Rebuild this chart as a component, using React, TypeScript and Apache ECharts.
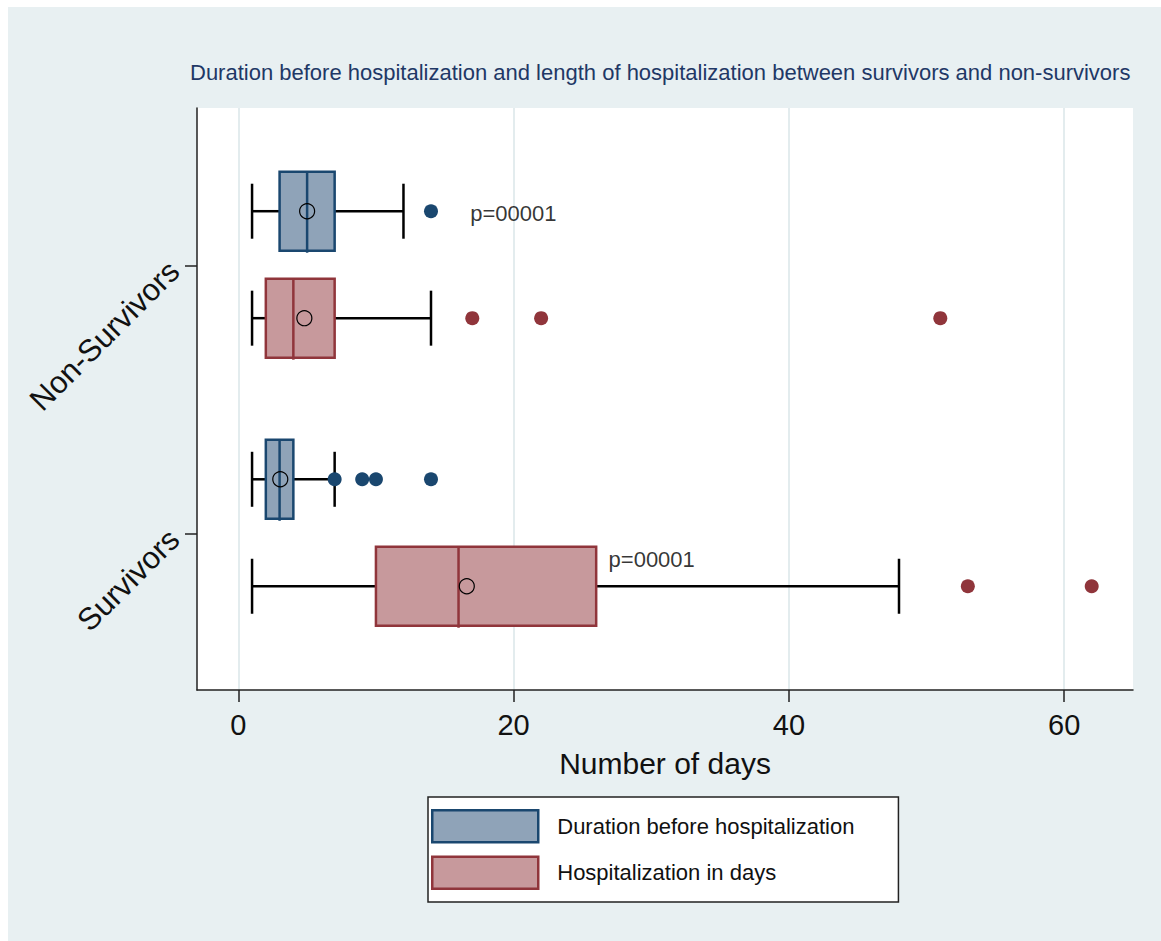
import React, { useEffect, useRef } from 'react';
import * as echarts from 'echarts';

// Groups from bottom to top; axis position = index + 1
const groups = ['Survivors', 'Non-Survivors'];
const seriesNames = ['Duration before hospitalization', 'Hospitalization in days'];

// [low whisker, q1, median, q3, high whisker] per group
const durationBox = [
  [1, 2, 3, 4, 7],
  [1, 3, 5, 7, 12],
];
const hospBox = [
  [1, 10, 16, 26, 48],
  [1, 2, 4, 7, 14],
];
const durationMean = [3.05, 5.0];
const hospMean = [16.6, 4.8];
const durationOutliers = [[7, 9, 10, 14], [14]];
const hospOutliers = [[53, 62], [17, 22, 51]];
const pLabels = ['p=00001', 'p=00001'];
const pLabelX = [26.9, 16.85];
const xTicks = [0, 20, 40, 60];

const title =
  'Duration before hospitalization and length of hospitalization between survivors and non-survivors';

const FONT = '"Liberation Sans", Arial, sans-serif';
const BLUE = '#1a476f';
const BLUE_FILL = '#8fa3b8';
const RED = '#90353b';
const RED_FILL = '#c7999c';
const OFF_BLUE = 0.205;
const OFF_RED = -0.194;

function renderBox(fill: string, border: string) {
  return (params: any, api: any) => {
    const y = api.value(0);
    const p = [1, 2, 3, 4, 5].map((i) => api.coord([api.value(i), y]));
    const cy = p[0][1];
    const bh = 39.5;
    const ch = 27.5;
    const black = { stroke: '#000', lineWidth: 2.5 };
    return {
      type: 'group',
      children: [
        { type: 'line', shape: { x1: p[0][0], y1: cy, x2: p[1][0], y2: cy }, style: black },
        { type: 'line', shape: { x1: p[3][0], y1: cy, x2: p[4][0], y2: cy }, style: black },
        { type: 'line', shape: { x1: p[0][0], y1: cy - ch, x2: p[0][0], y2: cy + ch }, style: black },
        { type: 'line', shape: { x1: p[4][0], y1: cy - ch, x2: p[4][0], y2: cy + ch }, style: black },
        {
          type: 'rect',
          shape: { x: p[1][0], y: cy - bh, width: p[3][0] - p[1][0], height: 2 * bh },
          style: { fill, stroke: border, lineWidth: 2.5 },
        },
        {
          type: 'line',
          shape: { x1: p[2][0], y1: cy - bh, x2: p[2][0], y2: cy + bh + 2 },
          style: { stroke: border, lineWidth: 2.5 },
        },
      ],
    };
  };
}

export default function App() {
  const ref = useRef<HTMLDivElement>(null);
  useEffect(() => {
    if (!ref.current) return;
    const chart = echarts.init(ref.current, undefined, { renderer: 'svg' });

    const pos = (gi: number, off: number) => gi + 1 + off;
    const durData = durationBox.map((b, gi) => [pos(gi, OFF_BLUE), ...b]);
    const hospData = hospBox.map((b, gi) => [pos(gi, OFF_RED), ...b]);
    const durMeanData = durationMean.map((m, gi) => [m, pos(gi, OFF_BLUE)]);
    const hospMeanData = hospMean.map((m, gi) => [m, pos(gi, OFF_RED)]);
    const durOutData: number[][] = [];
    durationOutliers.forEach((arr, gi) => arr.forEach((v) => durOutData.push([v, pos(gi, OFF_BLUE)])));
    const hospOutData: number[][] = [];
    hospOutliers.forEach((arr, gi) => arr.forEach((v) => hospOutData.push([v, pos(gi, OFF_RED)])));

    const pLabelStyle = { fontFamily: FONT, fontSize: 22, color: '#000' };

    chart.setOption({
      animation: false,
      backgroundColor: 'transparent',
      title: {
        text: title,
        left: 190,
        top: 61,
        padding: 0,
        textStyle: { fontFamily: FONT, fontSize: 22, fontWeight: 'normal', color: '#1f3866' },
      },
      grid: {
        left: 197,
        right: 28,
        top: 108,
        bottom: 251,
        show: true,
        backgroundColor: '#ffffff',
        borderWidth: 0,
      },
      legend: {
        orient: 'vertical',
        left: 428,
        top: 797,
        padding: [12, 44, 12, 3],
        itemWidth: 106,
        itemHeight: 32,
        itemGap: 12,
        backgroundColor: '#ffffff',
        borderColor: '#222',
        borderWidth: 1.5,
        borderRadius: 0,
        textStyle: { fontFamily: FONT, fontSize: 22, color: '#111', padding: [0, 0, 0, 14] },
        data: [
          { name: seriesNames[0], icon: 'rect', itemStyle: { color: BLUE_FILL, borderColor: BLUE, borderWidth: 2.5 } },
          { name: seriesNames[1], icon: 'rect', itemStyle: { color: RED_FILL, borderColor: RED, borderWidth: 2.5 } },
        ],
      },
      xAxis: {
        type: 'value',
        min: -3,
        max: 65,
        name: 'Number of days',
        nameLocation: 'middle',
        nameGap: 58,
        nameTextStyle: { fontFamily: FONT, fontSize: 30, color: '#111' },
        axisLine: { show: true, onZero: false, lineStyle: { color: '#222', width: 1.5 } },
        axisTick: { show: true, length: 12, customValues: xTicks, lineStyle: { color: '#222', width: 1.5 } },
        axisLabel: {
          customValues: xTicks,
          margin: 20,
          fontFamily: FONT,
          fontSize: 29,
          color: '#111',
        },
        splitLine: { show: true, lineStyle: { color: '#e3ecee', width: 2 } },
      },
      yAxis: {
        type: 'value',
        min: 0.419,
        max: 2.59,
        axisLine: { show: true, onZero: false, lineStyle: { color: '#222', width: 1.5 } },
        axisTick: { show: true, length: 12, customValues: [1, 2], lineStyle: { color: '#222', width: 1.5 } },
        axisLabel: {
          customValues: [1, 2],
          rotate: 45,
          margin: 23,
          fontFamily: FONT,
          fontSize: 31,
          color: '#111',
          formatter: (v: number) => groups[Math.round(v) - 1] ?? '',
        },
        splitLine: { show: false },
      },
      series: [
        {
          name: seriesNames[0],
          type: 'custom',
          renderItem: renderBox(BLUE_FILL, BLUE),
          encode: { x: [1, 2, 3, 4, 5], y: 0 },
          itemStyle: { color: BLUE_FILL, borderColor: BLUE, borderWidth: 2.5 },
          data: durData,
          z: 2,
        },
        {
          name: seriesNames[1],
          type: 'custom',
          renderItem: renderBox(RED_FILL, RED),
          encode: { x: [1, 2, 3, 4, 5], y: 0 },
          itemStyle: { color: RED_FILL, borderColor: RED, borderWidth: 2.5 },
          data: hospData,
          z: 2,
        },
        {
          name: 'dur-out',
          type: 'scatter',
          symbol: 'circle',
          symbolSize: 14,
          itemStyle: { color: BLUE, opacity: 1 },
          data: durOutData,
          z: 3,
        },
        {
          name: 'hosp-out',
          type: 'scatter',
          symbol: 'circle',
          symbolSize: 14,
          itemStyle: { color: RED, opacity: 1 },
          data: hospOutData,
          z: 3,
        },
        {
          name: 'means',
          type: 'scatter',
          symbol: 'circle',
          symbolSize: 15,
          itemStyle: { color: 'rgba(0,0,0,0)', borderColor: '#000', borderWidth: 1.2, opacity: 1 },
          data: [...durMeanData, ...hospMeanData],
          z: 4,
        },
        {
          name: 'p-values',
          type: 'scatter',
          symbolSize: 0,
          silent: true,
          data: [
            {
              value: [pLabelX[0], pos(0, OFF_RED)],
              label: { show: true, formatter: pLabels[0], position: 'right', distance: 0, offset: [0, -27], ...pLabelStyle },
            },
            {
              value: [pLabelX[1], pos(1, OFF_BLUE)],
              label: { show: true, formatter: pLabels[1], position: 'right', distance: 0, offset: [0, 2], ...pLabelStyle },
            },
          ],
          z: 5,
        },
      ],
    });
    return () => chart.dispose();
  }, []);

  return (
    <div style={{ position: 'fixed', left: 0, top: 0, width: 1161, height: 941, background: '#ffffff' }}>
      <div style={{ position: 'absolute', left: 8, top: 7, right: 0, bottom: 0, background: '#e8f0f2' }} />
      <div ref={ref} style={{ position: 'absolute', left: 0, top: 0, width: 1161, height: 941 }} />
    </div>
  );
}
